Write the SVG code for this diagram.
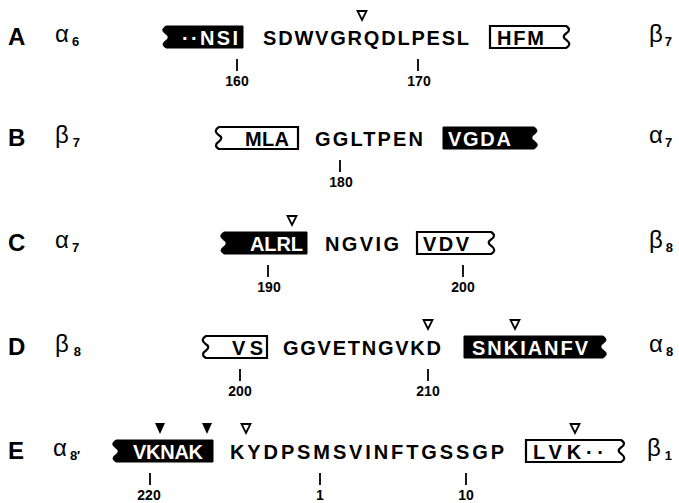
<svg xmlns="http://www.w3.org/2000/svg" width="679" height="503" viewBox="0 0 679 503">
<style>
text{font-family:"Liberation Sans",Arial,Helvetica,sans-serif;fill:#000}
.lbl{font-size:24px;font-weight:bold}
.seq{font-size:20px;font-weight:bold}
.inv{font-size:20px;font-weight:bold;fill:#fff}
.num{font-size:14px;font-weight:bold;text-anchor:middle}
.gr{font-size:24px}
.sub{font-size:13px;font-weight:bold}
.blk{fill:#000;stroke:#000;stroke-width:1}
.opn{fill:#fff;stroke:#000;stroke-width:2.2;stroke-linejoin:miter}
.tick{stroke:#000;stroke-width:1.8}
.otri{fill:#fff;stroke:#000;stroke-width:1.8;stroke-linejoin:miter}
.ftri{fill:#000}
</style>
<defs>
<path id="ot" class="otri" d="M-4.5,0 H4.5 L0,9 Z"/>
<path id="ft" class="ftri" d="M-5,0 H5 L0,11 Z"/>
</defs>
<rect width="679" height="503" fill="#fff"/>

<!-- Row A -->
<g id="rowA">
<text class="lbl" x="8" y="45">A</text>
<text class="gr" x="55" y="42">α<tspan class="sub" dy="4" dx="3">6</tspan></text>
<g id="boxA1">
<path class="blk" d="M243,26 V48 H166 Q160,44.5 166,40.5 Q171,37 165,33.5 Q160,29.5 166,26 Z"/>
<text class="inv" x="182" y="44.5" textLength="56" lengthAdjust="spacing">··NSI</text>
</g>
<text class="seq" x="263" y="44.5" textLength="206" lengthAdjust="spacing">SDWVGRQDLPESL</text>
<g id="boxA2">
<path class="opn" d="M490,26 H566 Q572,29.5 566,33.5 Q561,37 567,40.5 Q572,44.5 566,48 H490 Z"/>
<text class="seq" x="497" y="44.5" textLength="47" lengthAdjust="spacing">HFM</text>
</g>
<text class="gr" x="649" y="42">β<tspan class="sub" dy="4" dx="2">7</tspan></text>
</g>

<!-- Row B -->
<g id="rowB">
<text class="lbl" x="8" y="146">B</text>
<text class="gr" x="55" y="143">β<tspan class="sub" dy="4" dx="4">7</tspan></text>
<g id="boxB1">
<path class="opn" d="M298,127 V149 H219 Q213,145.5 219,141.5 Q224,138 218,134.5 Q213,130.5 219,127 Z"/>
<text class="seq" x="245" y="145.5" textLength="44" lengthAdjust="spacing">MLA</text>
</g>
<text class="seq" x="315" y="145.5" textLength="108" lengthAdjust="spacing">GGLTPEN</text>
<g id="boxB2">
<path class="blk" d="M443,127 H534 Q540,130.5 534,134.5 Q529,138 535,141.5 Q540,145.5 534,149 H443 Z"/>
<text class="inv" x="448" y="145.5" textLength="63" lengthAdjust="spacing">VGDA</text>
</g>
<text class="gr" x="649" y="143">α<tspan class="sub" dy="4" dx="2">7</tspan></text>
</g>

<!-- Row C -->
<g id="rowC">
<text class="lbl" x="8" y="251">C</text>
<text class="gr" x="55" y="248">α<tspan class="sub" dy="4" dx="3">7</tspan></text>
<g id="boxC1">
<path class="blk" d="M307,232 V254 H224 Q218,250.5 224,246.5 Q229,243 223,239.5 Q218,235.5 224,232 Z"/>
<text class="inv" x="250" y="250.5" textLength="53" lengthAdjust="spacing">ALRL</text>
</g>
<text class="seq" x="325" y="250.5" textLength="74" lengthAdjust="spacing">NGVIG</text>
<g id="boxC2">
<path class="opn" d="M417,232 H491 Q497,235.5 491,239.5 Q486,243 492,246.5 Q497,250.5 491,254 H417 Z"/>
<text class="seq" x="423" y="250.5" textLength="46" lengthAdjust="spacing">VDV</text>
</g>
<text class="gr" x="649" y="248">β<tspan class="sub" dy="4" dx="3">8</tspan></text>
</g>

<!-- Row D -->
<g id="rowD">
<text class="lbl" x="8" y="355">D</text>
<text class="gr" x="55" y="352">β<tspan class="sub" dy="4" dx="5">8</tspan></text>
<g id="boxD1">
<path class="opn" d="M267,336 V358 H206 Q200,354.5 206,350.5 Q211,347 205,343.5 Q200,339.5 206,336 Z"/>
<text class="seq" x="232" y="354.5" textLength="31" lengthAdjust="spacing">VS</text>
</g>
<text class="seq" x="283" y="354.5" textLength="158" lengthAdjust="spacing">GGVETNGVKD</text>
<g id="boxD2">
<path class="blk" d="M464,336 H603 Q609,339.5 603,343.5 Q598,347 604,350.5 Q609,354.5 603,358 H464 Z"/>
<text class="inv" x="472" y="354.5" textLength="116" lengthAdjust="spacing">SNKIANFV</text>
</g>
<text class="gr" x="649" y="352">α<tspan class="sub" dy="4" dx="3">8</tspan></text>
</g>

<!-- Row E -->
<g id="rowE">
<text class="lbl" x="8" y="459">E</text>
<text class="gr" x="53" y="456">α<tspan class="sub" dy="4" dx="3">8′</tspan></text>
<g id="boxE1">
<path class="blk" d="M213,440 V462 H116 Q110,458.5 116,454.5 Q121,451 115,447.5 Q110,443.5 116,440 Z"/>
<text class="inv" x="133" y="458.5" textLength="70" lengthAdjust="spacing">VKNAK</text>
</g>
<text class="seq" x="230" y="458.5" textLength="274" lengthAdjust="spacing">KYDPSMSVINFTGSSGP</text>
<g id="boxE2">
<path class="opn" d="M526,440 H621 Q627,443.5 621,447.5 Q616,451 622,454.5 Q627,458.5 621,462 H526 Z"/>
<text class="seq" x="533" y="458.5" textLength="71" lengthAdjust="spacing">LVK··</text>
</g>
<text class="gr" x="647" y="456">β<tspan class="sub" dy="4" dx="4">1</tspan></text>
</g>

<!-- Ticks and triangle markers -->
<g id="connectors">
<line class="tick" x1="237" y1="59" x2="237" y2="71"/>
<line class="tick" x1="418" y1="59" x2="418" y2="71"/>
<line class="tick" x1="340" y1="160" x2="340" y2="172"/>
<line class="tick" x1="268" y1="265" x2="268" y2="277"/>
<line class="tick" x1="463" y1="265" x2="463" y2="277"/>
<line class="tick" x1="240" y1="369" x2="240" y2="381"/>
<line class="tick" x1="428" y1="369" x2="428" y2="381"/>
<line class="tick" x1="150" y1="473" x2="150" y2="485"/>
<line class="tick" x1="320" y1="473" x2="320" y2="485"/>
<line class="tick" x1="466" y1="473" x2="466" y2="485"/>
<use href="#ot" x="362" y="11"/>
<use href="#ot" x="292" y="216"/>
<use href="#ot" x="428" y="320"/>
<use href="#ot" x="515" y="320"/>
<use href="#ot" x="246" y="424"/>
<use href="#ot" x="575" y="424"/>
<use href="#ft" x="160" y="423"/>
<use href="#ft" x="207" y="423"/>
</g>
<g id="numbers">
<text class="num" x="237" y="86">160</text>
<text class="num" x="419" y="86">170</text>
<text class="num" x="341" y="187">180</text>
<text class="num" x="269" y="292">190</text>
<text class="num" x="463" y="292">200</text>
<text class="num" x="240" y="396">200</text>
<text class="num" x="428" y="396">210</text>
<text class="num" x="149" y="500">220</text>
<text class="num" x="320" y="500">1</text>
<text class="num" x="466" y="500">10</text>
</g>
</svg>
